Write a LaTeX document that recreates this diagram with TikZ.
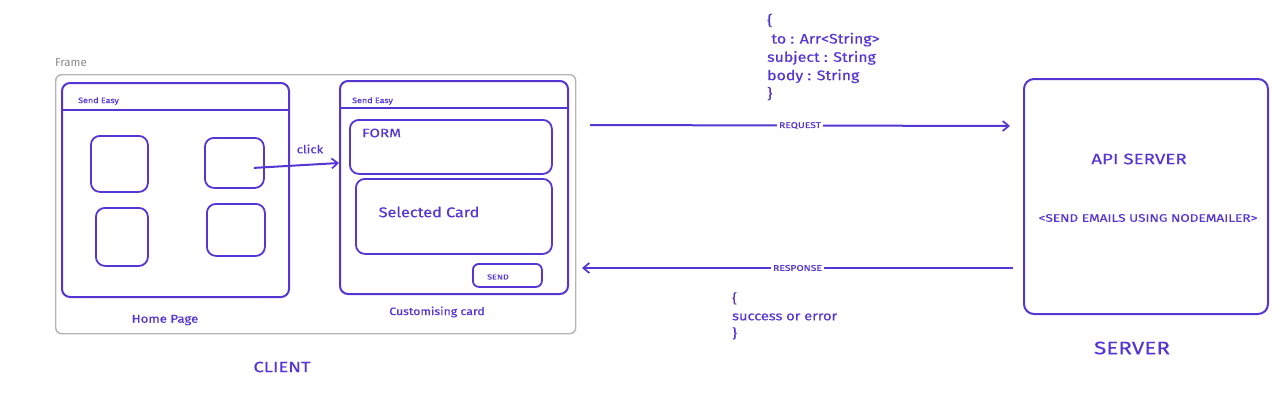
\documentclass[tikz,border=0pt]{standalone}
\usepackage{fontspec}
\setmainfont{Fira Sans}
\newfontfamily\hand[FakeStretch=1.15,FakeBold=0.5]{Fira Sans}
\newfontfamily\handcaps[FakeStretch=1.25,FakeBold=0.5]{Fira Sans}
\usetikzlibrary{arrows.meta}
\definecolor{ink}{HTML}{5636D3}
\definecolor{framegray}{HTML}{B4B4B4}
\definecolor{labelgray}{HTML}{8A8A8A}
\newcommand{\hs}[1]{\hand\fontsize{#1}{#1}\selectfont}
\newcommand{\hc}[1]{\handcaps\fontsize{#1}{#1}\selectfont}
\tikzset{
  win/.style={draw=ink, line width=2pt, rounded corners=8pt, inner sep=0pt, anchor=north west},
  cardbox/.style={draw=ink, line width=1.8pt, rounded corners=9pt, inner sep=0pt, anchor=north west},
  txt/.style={text=ink, inner sep=0pt},
  arr/.style={draw=ink, line width=2pt, -{Straight Barb[length=6pt,width=10pt,line width=1.7pt]}},
  lbl/.style={text=ink, fill=white, inner sep=2pt, font=\hc{8.3}},
}
\begin{document}
\begin{tikzpicture}[x=1pt,y=-1pt]
\useasboundingbox (0,0) rectangle (1280,408);
% Frame
\node[text=labelgray, anchor=west, inner sep=0pt, font=\fontsize{11.5}{13}\selectfont] (framelbl) at (55,63) {Frame};
\node[draw=framegray, line width=1.4pt, rounded corners=6pt, inner sep=0pt, anchor=north west, minimum width=520pt, minimum height=259pt] (frame) at (55,74) {};
% Home page window
\node[win, minimum width=227pt, minimum height=214pt] (home) at (61,82) {};
\draw[ink, line width=2pt] ([yshift=-28pt]home.north west) -- ([yshift=-28pt]home.north east);
\node[txt, anchor=west, font=\hs{7.8}] (homehdr) at (78,101) {Send Easy};
\node[cardbox, minimum width=57pt, minimum height=56pt] (card1) at (90,135) {};
\node[cardbox, minimum width=59pt, minimum height=50pt] (card2) at (204,137) {};
\node[cardbox, minimum width=52pt, minimum height=58pt] (card3) at (95,207) {};
\node[cardbox, minimum width=58pt, minimum height=52pt] (card4) at (206,203) {};
\node[txt, font=\hs{11.5}] (homelbl) at (165,320) {Home Page};
% Customising window
\node[win, minimum width=228pt, minimum height=213pt] (cust) at (339,80) {};
\draw[ink, line width=2pt] ([yshift=-28pt]cust.north west) -- ([yshift=-28pt]cust.north east);
\node[txt, anchor=west, font=\hs{7.8}] (custhdr) at (352,101) {Send Easy};
\node[cardbox, minimum width=202pt, minimum height=54pt] (form) at (349,119) {};
\node[txt, anchor=west, font=\hc{12.2}] (formlbl) at (362,133) {FORM};
\node[cardbox, minimum width=196pt, minimum height=75pt] (sel) at (355,178) {};
\node[txt, font=\hs{14.1}] (sellbl) at (429,212) {Selected Card};
\node[cardbox, rounded corners=6pt, minimum width=69pt, minimum height=23pt] (send) at (472,263) {};
\node[txt, font=\hc{7.2}] (sendlbl) at (498,277) {SEND};
\node[txt, font=\hs{10.7}] (custlbl) at (437,312) {Customising card};
% click arrow
\draw[arr] ([xshift=19.5pt,yshift=-5pt]card2.center) -- ([yshift=24.5pt]cust.west);
\node[txt, font=\hs{11.3}] (clicklbl) at (310,149) {click};
% CLIENT
\node[txt, font=\hc{14.8}] (client) at (282,367) {CLIENT};
% Server
\node[win, rounded corners=10pt, minimum width=244pt, minimum height=235pt] (server) at (1023,78) {};
\node[txt, font=\hc{15}] (api) at (1139,159) {API SERVER};
\node[txt, font=\hc{10.9}] (nodemailer) at (1148,218) {<SEND EMAILS USING NODEMAILER>};
\node[txt, font=\hc{18}] (serverlbl) at (1132,348) {SERVER};
% Request
\coordinate (reqA) at (590,125);
\coordinate (reqB) at (1010,126);
\draw[arr] (reqA) -- node[lbl, pos=0.5] {REQUEST} (reqB);
\node[txt, anchor=north west, align=left, font=\hand\fontsize{13.8}{18.3}\selectfont] (reqjson) at (767,13.5)
  {\{\\\ to : Arr<String>\\subject : String\\body : String\\\}};
% Response
\coordinate (resA) at (1013,268);
\coordinate (resB) at (582,268);
\draw[arr] (resA) -- node[lbl, pos=0.5] {RESPONSE} (resB);
\node[txt, anchor=north west, align=left, font=\hand\fontsize{12.7}{17.5}\selectfont] (resjson) at (732,292)
  {\{\\success or error\\\}};
\end{tikzpicture}
\end{document}
